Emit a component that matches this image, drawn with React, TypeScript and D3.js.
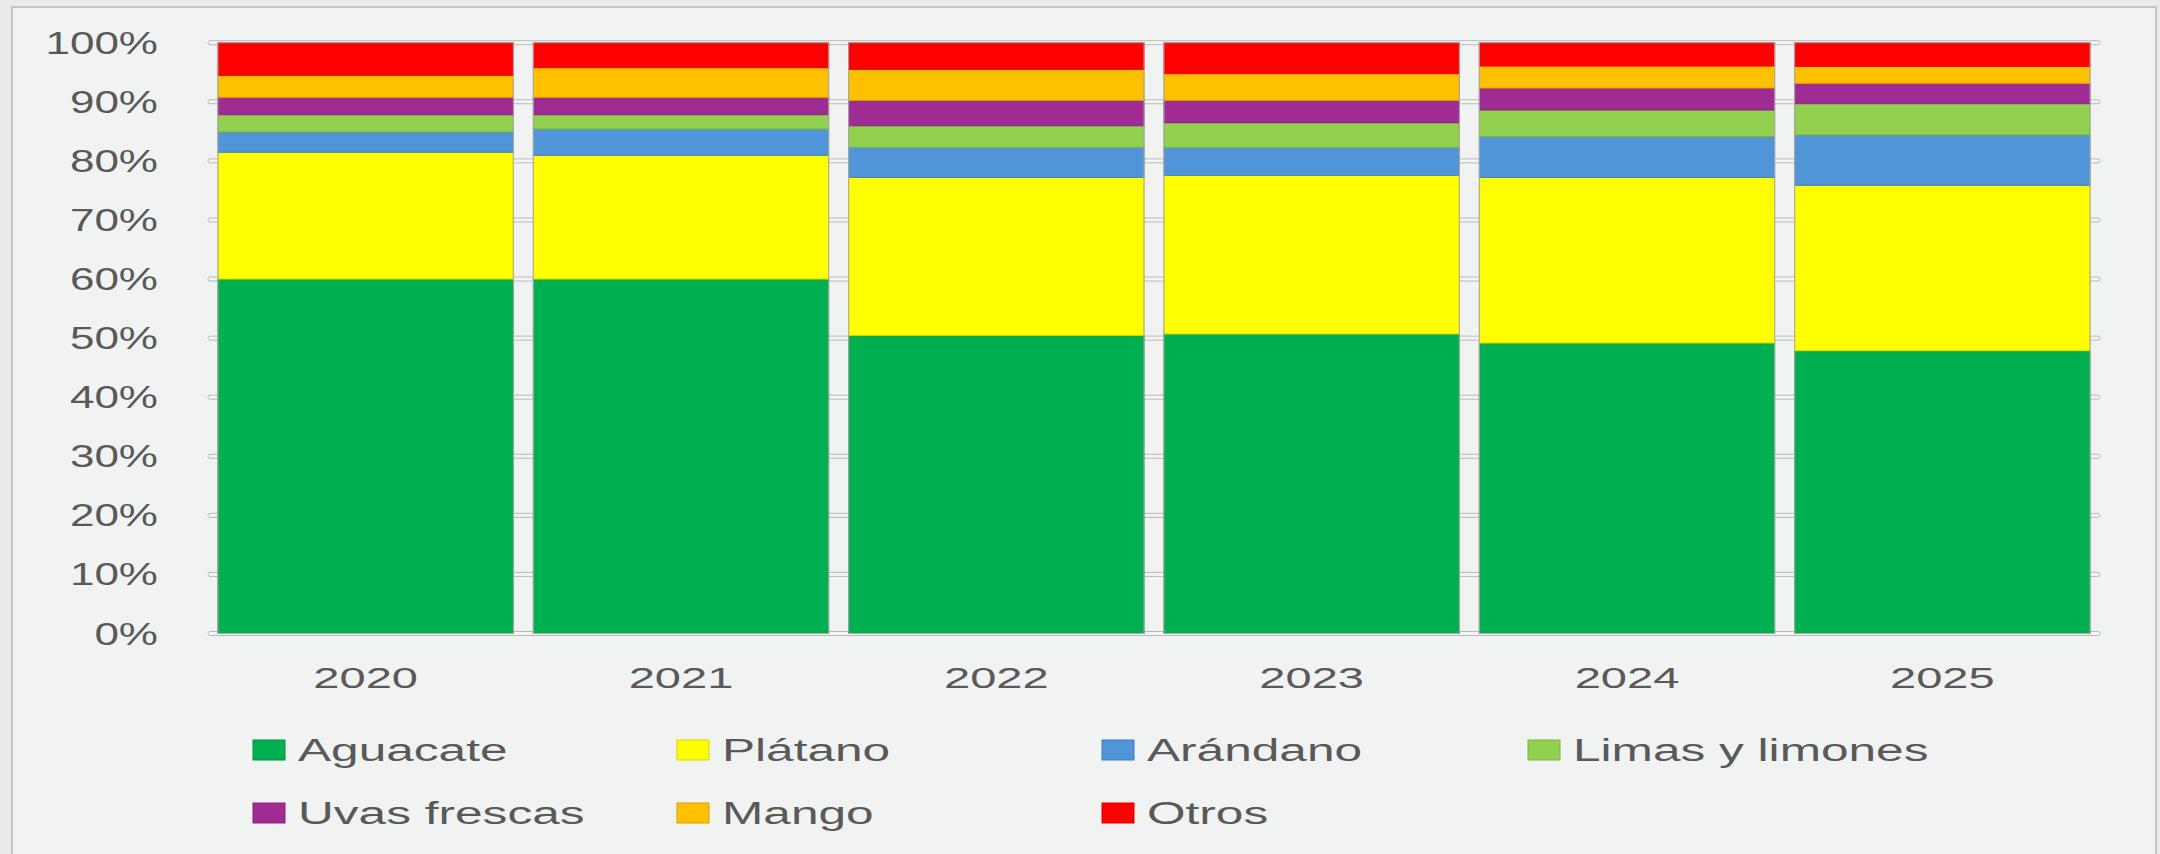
import React, { useEffect } from "react";
import * as d3 from "d3";

const years = ["2020", "2021", "2022", "2023", "2024", "2025"];
const seriesNames = ["Aguacate", "Plátano", "Arándano", "Limas y limones", "Uvas frescas", "Mango", "Otros"];
const seriesColors = ["#00B050", "#FFFF00", "#4F95D8", "#92D050", "#A02B93", "#FFC000", "#FF0000"];

const aguacate = [60.0, 60.0, 50.47, 50.7, 49.17, 47.87];
const platano = [21.45, 20.94, 26.73, 26.85, 28.03, 27.99];
const arandano = [3.44, 4.45, 5.1, 4.75, 6.89, 8.52];
const limas = [2.92, 2.42, 3.65, 4.16, 4.52, 5.3];
const uvas = [2.95, 2.95, 4.3, 3.79, 3.72, 3.45];
const mango = [3.72, 5.01, 5.25, 4.51, 3.73, 2.87];
const otros = [5.52, 4.23, 4.5, 5.24, 3.94, 4.0];

const yTicks = [0, 10, 20, 30, 40, 50, 60, 70, 80, 90, 100];

const W = 2160;
const H = 854;
const FONT = "'Liberation Sans', Arial, sans-serif";
const TEXT = "#595959";

export default function App() {
  useEffect(() => {
    document.body.style.margin = "0";
  }, []);

  const seriesValues = [aguacate, platano, arandano, limas, uvas, mango, otros];
  const rows = years.map((y, i) => {
    const r: any = { year: y };
    seriesNames.forEach((n, k) => (r[n] = seriesValues[k][i]));
    return r;
  });
  const stack = d3.stack<any>().keys(seriesNames)(rows);

  const x = d3
    .scaleBand<string>()
    .domain(years)
    .range([208, 2100])
    .paddingInner(0.0634)
    .paddingOuter(0.0317);
  const y = d3.scaleLinear().domain([0, 100]).range([633.5, 42.7]);

  const legendCols = [253, 677, 1102, 1528];
  const legendRows = [740, 803];

  return (
    <svg width={W} height={H} style={{ display: "block", fontFamily: FONT }}>
      <rect x={0} y={0} width={W} height={H} fill="#e9ebea" />
      <rect x={12} y={7} width={2144} height={900} fill="#f1f3f2" stroke="#c4c6c5" strokeWidth={2} />

      {/* gridlines */}
      {yTicks.map((t) => (
        <rect
          key={"g" + t}
          x={208}
          y={y(t) - 2}
          width={1892}
          height={4}
          rx={2}
          fill="#f4f4f4"
          stroke="#b9b9b9"
          strokeWidth={1}
        />
      ))}

      {/* bars */}
      {stack.map((s, k) => (
        <g key={s.key}>
          {s.map((d, i) => (
            <rect
              key={i}
              x={x(years[i])!}
              y={y(d[1])}
              width={x.bandwidth()}
              height={y(d[0]) - y(d[1])}
              fill={seriesColors[k]}
              stroke={d3.color(seriesColors[k])!.darker(0.4).formatHex()}
              strokeWidth={1}
            />
          ))}
        </g>
      ))}
      {years.map((yr) => (
        <rect
          key={"o" + yr}
          x={x(yr)!}
          y={y(100)}
          width={x.bandwidth()}
          height={y(0) - y(100)}
          fill="none"
          stroke="#a9a9a9"
          strokeWidth={1}
        />
      ))}

      {/* y labels */}
      {yTicks.map((t) => (
        <g key={"yl" + t} transform={`translate(158,${y(t) + 11}) scale(1.42,1)`}>
          <text textAnchor="end" fontSize={31} fill={TEXT}>
            {t + "%"}
          </text>
        </g>
      ))}

      {/* x labels */}
      {years.map((yr) => (
        <g key={"xl" + yr} transform={`translate(${x(yr)! + x.bandwidth() / 2},688) scale(1.57,1)`}>
          <text textAnchor="middle" fontSize={30} fill={TEXT}>
            {yr}
          </text>
        </g>
      ))}

      {/* legend */}
      {seriesNames.map((n, k) => {
        const col = k % 4;
        const row = Math.floor(k / 4);
        const lx = legendCols[col];
        const ly = legendRows[row];
        return (
          <g key={"lg" + n}>
            <rect
              x={lx}
              y={ly}
              width={32}
              height={20}
              fill={seriesColors[k]}
              stroke={d3.color(seriesColors[k])!.darker(0.5).formatHex()}
              strokeWidth={1}
            />
            <g transform={`translate(${lx + 45},${ly + 20.5}) scale(1.6,1)`}>
              <text fontSize={31} fill={TEXT}>
                {n}
              </text>
            </g>
          </g>
        );
      })}
    </svg>
  );
}
